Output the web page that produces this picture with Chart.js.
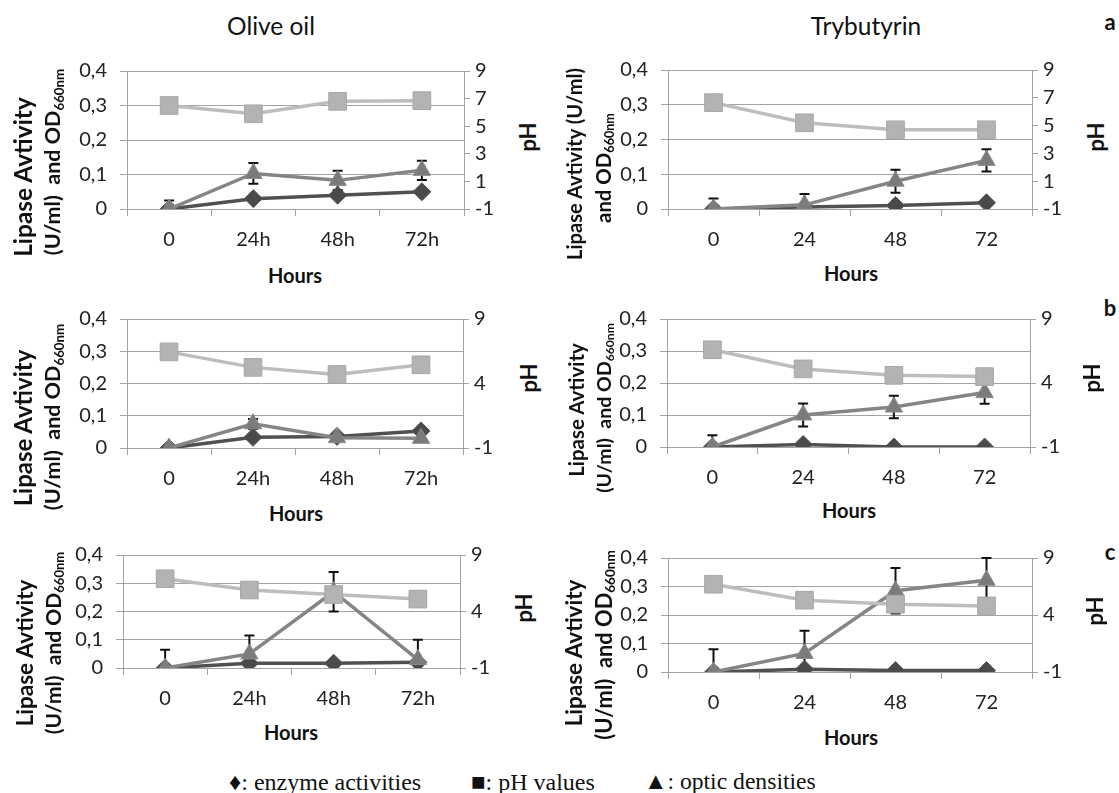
<!DOCTYPE html>
<html>
<head>
<meta charset="utf-8">
<script src="https://cdn.jsdelivr.net/npm/chart.js@4.4.0/dist/chart.umd.min.js"></script>
<style>
  body { margin:0; width:1119px; height:793px; background:#fff; position:relative; overflow:hidden; font-family:Lato, "Open Sans", sans-serif; color:#111; }
  canvas { position:absolute; }
  .t { position:absolute; white-space:nowrap; line-height:1; transform:translate(-50%,-50%); }
  .r { transform:translate(-50%,-50%) rotate(-90deg); }
  .b { font-weight:bold; }
  .lg { position:absolute; white-space:nowrap; line-height:1; font-family:"Liberation Serif", "DejaVu Serif", serif; font-size:22px; top:770px; color:#111; }
  sub { font-size:62%; vertical-align:-0.25em; }
</style>
</head>
<body>
<script>
// categories
const hoursOlive = ['0', '24h', '48h', '72h'];
const hoursTry = ['0', '24', '48', '72'];

// a - olive oil
const aOliveEnzyme = [0, 0.03, 0.04, 0.05];
const aOlivePH = [6.5, 5.9, 6.8, 6.85];
const aOliveOD = [0, 0.103, 0.083, 0.112];
const aOliveODErr = [0.025, 0.03, 0.028, 0.028];
// a - trybutyrin
const aTryEnzyme = [0, 0.006, 0.01, 0.018];
const aTryPH = [6.65, 5.2, 4.7, 4.7];
const aTryOD = [0, 0.012, 0.08, 0.14];
const aTryODErr = [0.03, 0.031, 0.033, 0.032];

// b - olive oil
const bOliveEnzyme = [0, 0.033, 0.036, 0.053];
const bOlivePH = [6.45, 5.25, 4.7, 5.45];
const bOliveOD = [0, 0.075, 0.032, 0.03];
const bOliveODErr = [0.008, 0.015, 0.005, 0.005];
// b - trybutyrin
const bTryEnzyme = [0, 0.008, 0, 0];
const bTryPH = [6.6, 5.1, 4.6, 4.5];
const bTryOD = [0, 0.1, 0.125, 0.17];
const bTryODErr = [0.037, 0.036, 0.035, 0.035];

// c - olive oil
const cOliveEnzyme = [0, 0.017, 0.017, 0.02];
const cOlivePH = [6.9, 5.9, 5.5, 5.1];
const cOliveOD = [0, 0.05, 0.27, 0.03];
const cOliveODErr = [0.065, 0.065, 0.07, 0.07];
// c - trybutyrin
const cTryEnzyme = [0, 0.01, 0.005, 0.005];
const cTryPH = [6.7, 5.3, 4.95, 4.8];
const cTryOD = [0, 0.065, 0.285, 0.322];
const cTryODErr = [0.08, 0.08, 0.08, 0.078];

// axis ticks
const leftMin = 0, leftMax = 0.4, leftStep = 0.1;
const rightMin = -1, rightMax = 9;
const rightStepA = 2, rightStepBC = 5;

const GRID = '#a3a3a3';
const PH_LINE = '#bdbdbd', PH_FILL = '#b3b3b3';
const OD_LINE = '#858585', OD_FILL = '#7b7b7b';
const ENZ_LINE = '#505050', ENZ_FILL = '#4a4a4a';

// error bars drawn under the series, through the chart's own scales
const errorBars = {
  id: 'errorBars',
  beforeDatasetsDraw(chart) {
    const ctx = chart.ctx, area = chart.chartArea;
    chart.data.datasets.forEach((ds, di) => {
      if (!ds.errors) return;
      const meta = chart.getDatasetMeta(di);
      const ys = chart.scales[ds.yAxisID];
      ctx.save();
      ctx.beginPath();
      ctx.rect(area.left, area.top - 1, area.right - area.left, area.bottom - area.top + 1);
      ctx.clip();
      ctx.strokeStyle = '#111';
      ctx.lineWidth = 2;
      meta.data.forEach((pt, i) => {
        const v = ds.data[i], e = ds.errors[i];
        const yt = ys.getPixelForValue(v + e), yb = ys.getPixelForValue(v - e);
        ctx.beginPath();
        ctx.moveTo(pt.x, yt); ctx.lineTo(pt.x, yb);
        ctx.moveTo(pt.x - 5, yt); ctx.lineTo(pt.x + 5, yt);
        ctx.moveTo(pt.x - 5, yb); ctx.lineTo(pt.x + 5, yb);
        ctx.stroke();
      });
      ctx.restore();
    });
  }
};

function panel(box, labels, enzyme, ph, od, odErr, phStep) {
  const padL = 100, padR = 50, padT = 15, padB = 50;
  const cv = document.createElement('canvas');
  const w = box[1] - box[0] + padL + padR, h = box[3] - box[2] + padT + padB;
  cv.width = w; cv.height = h;
  cv.style.width = w + 'px'; cv.style.height = h + 'px';
  cv.style.left = (box[0] - padL) + 'px';
  cv.style.top = (box[2] - padT) + 'px';
  document.body.appendChild(cv);
  const tickFont = { family: 'Lato', size: 20 };
  new Chart(cv, {
    type: 'line',
    data: {
      labels: labels,
      datasets: [
        { data: ph, yAxisID: 'y2', order: 0, borderColor: PH_LINE, backgroundColor: PH_FILL,
          pointStyle: 'rect', pointRadius: 12.5, pointBorderColor: '#a8a8a8', pointBorderWidth: 1, borderWidth: 3.5 },
        { data: od, errors: odErr, yAxisID: 'y', order: 1, borderColor: OD_LINE, backgroundColor: OD_FILL,
          pointStyle: 'triangle', pointRadius: 10, pointBorderColor: '#8a8a8a', pointBorderWidth: 1, borderWidth: 3.5 },
        { data: enzyme, yAxisID: 'y', order: 2, borderColor: ENZ_LINE, backgroundColor: ENZ_FILL,
          pointStyle: 'rectRot', pointRadius: 9, pointBorderColor: '#555', pointBorderWidth: 1, borderWidth: 3.5 }
      ]
    },
    options: {
      responsive: false,
      animation: false,
      layout: { padding: { top: padT, left: 0, right: 0, bottom: 0 } },
      plugins: { legend: { display: false }, tooltip: { enabled: false } },
      elements: { line: { tension: 0 } },
      scales: {
        x: {
          offset: true,
          grid: { drawOnChartArea: false, offset: true, tickLength: 7, color: GRID },
          border: { color: GRID },
          ticks: { padding: 12, color: '#222', font: tickFont, maxRotation: 0 },
          afterFit: s => { s.height = padB; }
        },
        y: {
          position: 'left', min: leftMin, max: leftMax,
          grid: { color: GRID, tickLength: 7 },
          border: { color: GRID },
          ticks: { stepSize: leftStep, padding: 13, color: '#222', font: tickFont,
            callback: v => (Math.abs(v) < 1e-9 ? '0' : v.toFixed(1).replace('.', ',')) },
          afterFit: s => { s.width = padL; }
        },
        y2: {
          position: 'right', min: rightMin, max: rightMax,
          grid: { drawOnChartArea: false, tickLength: 6, color: GRID },
          border: { color: GRID },
          ticks: { stepSize: phStep, padding: 5, color: '#222', font: tickFont },
          afterFit: s => { s.width = padR; }
        }
      }
    },
    plugins: [errorBars]
  });
}

panel([127, 464, 61, 209], hoursOlive, aOliveEnzyme, aOlivePH, aOliveOD, aOliveODErr, rightStepA);
panel([668, 1032, 60, 209], hoursTry, aTryEnzyme, aTryPH, aTryOD, aTryODErr, rightStepA);
panel([127, 463, 309, 448], hoursOlive, bOliveEnzyme, bOlivePH, bOliveOD, bOliveODErr, rightStepBC);
panel([667, 1030, 309, 447], hoursTry, bTryEnzyme, bTryPH, bTryOD, bTryODErr, rightStepBC);
panel([123, 460, 545, 668], hoursOlive, cOliveEnzyme, cOlivePH, cOliveOD, cOliveODErr, rightStepBC);
panel([668, 1032, 548, 672], hoursTry, cTryEnzyme, cTryPH, cTryOD, cTryODErr, rightStepBC);

// text: [html, x, y, classes, target length]
const OD_SUB = 'OD<sub>660nm</sub>';
const texts = [
  ['Olive oil', 271, 26, '', 88],
  ['Trybutyrin', 866, 26, '', 110],
  ['a', 1110, 22, 'b', 0],
  ['b', 1110, 308, 'b', 0],
  ['c', 1110, 552, 'b', 0],
  ['Hours', 295, 275, 'b', 54],
  ['Hours', 851, 273, 'b', 54],
  ['Hours', 296, 513, 'b', 54],
  ['Hours', 849, 510, 'b', 54],
  ['Hours', 291, 732, 'b', 54],
  ['Hours', 851, 737, 'b', 54],
  ['pH', 528, 137, 'b r', 0],
  ['pH', 1096, 137, 'b r', 0],
  ['pH', 529, 378, 'b r', 0],
  ['pH', 1092, 378, 'b r', 0],
  ['pH', 524, 608, 'b r', 0],
  ['pH', 1095, 611, 'b r', 0],
  ['Lipase Avtivity', 23, 177, 'b r', 160],
  ['(U/ml)&nbsp; and ' + OD_SUB, 54, 162, 'b r', 187],
  ['Lipase Avtivity (U/ml)', 574, 164, 'b r', 192],
  ['and ' + OD_SUB, 605, 168, 'b r', 110],
  ['Lipase Avtivity', 23, 428, 'b r', 157],
  ['(U/ml)&nbsp; and ' + OD_SUB, 54, 417, 'b r', 187],
  ['Lipase Avtivity', 576, 410, 'b r', 134],
  ['(U/ml)&nbsp; and ' + OD_SUB, 605, 408, 'b r', 170],
  ['Lipase Avtivity', 25, 653, 'b r', 147],
  ['(U/ml)&nbsp; and ' + OD_SUB, 54, 643, 'b r', 183],
  ['Lipase Avtivity', 574, 653, 'b r', 147],
  ['(U/ml)&nbsp; and ' + OD_SUB, 605, 645, 'b r', 190]
];
texts.forEach(([html, x, y, cls, len]) => {
  const d = document.createElement('div');
  d.className = 't ' + cls;
  d.innerHTML = html;
  d.style.left = x + 'px';
  d.style.top = y + 'px';
  d.style.fontSize = cls.includes('b') && html.length <= 2 ? '22px' : '20px';
  document.body.appendChild(d);
  if (len) {
    const fs = parseFloat(d.style.fontSize);
    d.style.fontSize = (fs * len / d.offsetWidth).toFixed(2) + 'px';
  }
});

// legend line at the bottom: [text, left x, width]
const legendItems = [['\u2666: enzyme activities', 229, 204], ['\u25A0: pH values', 471, 143], ['\u25B2: optic densities', 644, 172]];
legendItems.forEach(([txt, x, len]) => {
  const d = document.createElement('div');
  d.className = 'lg';
  d.textContent = txt;
  d.style.left = x + 'px';
  document.body.appendChild(d);
  d.style.fontSize = Math.min(24, 22 * len / d.offsetWidth).toFixed(2) + 'px';
});
</script>
</body>
</html>
